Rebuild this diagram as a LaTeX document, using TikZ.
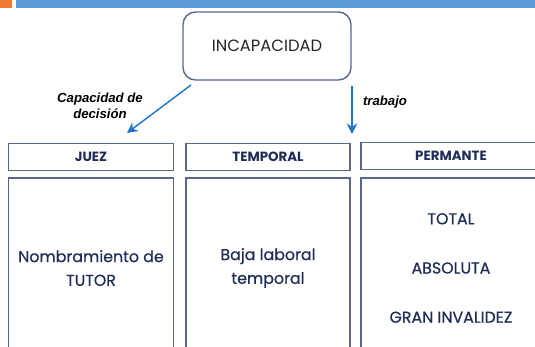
\documentclass[tikz,border=0pt]{standalone}
\usepackage{fontspec}
\usetikzlibrary{arrows.meta}
\usepackage{xcolor}
\newfontfamily\geofont{Poppins}
\newfontfamily\geomedium{Poppins}[FakeBold=0.5]
\newfontfamily\arialfont{Liberation Sans}
\definecolor{barblue}{RGB}{91,155,213}
\definecolor{barorange}{RGB}{237,125,49}
\definecolor{arrowblue}{RGB}{30,118,196}
\definecolor{boxline}{RGB}{88,102,140}
\definecolor{navytext}{RGB}{30,44,88}

\begin{document}
\begin{tikzpicture}[x=0.02cm, y=-0.02cm, thick,
        every node/.style={inner sep=1pt},
        mainbox/.style={draw=boxline, rounded corners=0.25cm, minimum width=3.36cm,
            minimum height=1.36cm, font=\geofont\fontsize{9.3}{11}\selectfont, text=black!85},
        headbox/.style={draw=boxline, minimum height=0.54cm,
            font=\geofont\bfseries\fontsize{7.6}{9}\selectfont, text=navytext},
        bodybox/.style={draw=boxline, minimum height=3.6cm, align=center,
            font=\geomedium\fontsize{9}{13.5}\selectfont, text=navytext},
        linklabel/.style={font=\arialfont\bfseries\itshape\fontsize{7.5}{9}\selectfont, align=center}]
        \useasboundingbox (0,0) rectangle (535,347);
        \clip (0,0) rectangle (535,347);

        % Top bar
        \fill[barorange] (0,0) rectangle (12,8);
        \fill[barblue] (16,0) rectangle (535,8);

        % Root box
        \node[mainbox] (inc) at (267,46) {INCAPACIDAD};

        % Header boxes
        \node[headbox, minimum width=3.3cm] (juez) at (91,157) {JUEZ};
        \node[headbox, minimum width=3.28cm] (temp) at (268,157) {TEMPORAL};
        \node[headbox, minimum width=3.6cm] (perm) at (451,156) {PERMANTE};

        % Body boxes
        \node[bodybox, minimum width=3.3cm] (tutor) at (91,268) {Nombramiento de\\TUTOR};
        \node[bodybox, minimum width=3.28cm] (baja) at (268,268) {Baja laboral\\temporal};
        \node[bodybox, minimum width=3.6cm] (grados) at (451,268)
            {TOTAL\\[14.5pt]ABSOLUTA\\[14.5pt]GRAN INVALIDEZ};

        % Arrows
        \coordinate (s1) at (191,85);
        \coordinate (e1) at (127,133);
        \coordinate (s2) at (352,86);
        \coordinate (e2) at (352,134);
        \draw[arrowblue, -{Stealth[length=6pt,width=6pt]}] (s1) -- (e1);
        \draw[arrowblue, -{Stealth[length=6pt,width=6pt]}] (s2) -- (e2);

        % Arrow labels
        \node[linklabel] (lab1) at (100,106) {Capacidad de\\decisión};
        \node[linklabel] (lab2) at (385,102) {trabajo};
    \end{tikzpicture}
\end{document}
